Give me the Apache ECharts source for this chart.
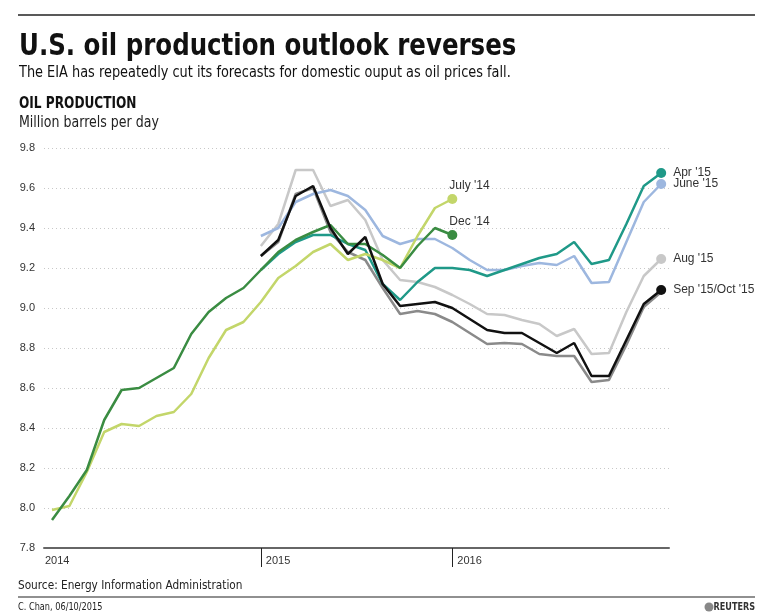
<!DOCTYPE html>
<html>
<head>
<meta charset="utf-8">
<script src="https://cdn.jsdelivr.net/npm/echarts@6/dist/echarts.min.js"></script>
<style>
html,body{margin:0;padding:0;background:#fff;}
#chart{width:773px;height:616px;}
</style>
</head>
<body>
<div id="chart"></div>
<script>
// Months Jan 2014 .. Dec 2016 (index 0..35)
var months = [];
['2014','2015','2016'].forEach(function(y){ for (var m=1;m<=12;m++) months.push(y+'-'+(m<10?'0'+m:m)); });

var yearTicks = [12, 23];
var yearLabels = ['2014', '2015', '2016'];
var yTicks = [7.8, 8.0, 8.2, 8.4, 8.6, 8.8, 9.0, 9.2, 9.4, 9.6, 9.8];

var N = null;
var july14 = [7.99, 8.01, 8.18, 8.38, 8.42, 8.41, 8.46, 8.48, 8.57, 8.75, 8.89, 8.93,
              9.03, 9.15, 9.21, 9.28, 9.32, 9.24, 9.27, 9.24, 9.20, 9.36, 9.50, 9.545];
var dec14  = [7.94, 8.06, 8.19, 8.44, 8.59, 8.60, 8.65, 8.70, 8.87, 8.98, 9.05, 9.10,
              9.19, 9.28, 9.34, 9.38, 9.415, 9.32, 9.32, 9.265, 9.20, 9.31, 9.40, 9.365];
var apr15  = [N,N,N,N,N,N,N,N,N,N,N,N,
              9.19, 9.27, 9.33, 9.365, 9.365, 9.32, 9.29, 9.12, 9.04, 9.13, 9.20, 9.20,
              9.19, 9.16, 9.19, 9.22, 9.25, 9.27, 9.33, 9.22, 9.24, 9.42, 9.61, 9.675];
var june15 = [N,N,N,N,N,N,N,N,N,N,N,N,
              9.36, 9.40, 9.53, 9.57, 9.59, 9.56, 9.49, 9.36, 9.32, 9.345, 9.345, 9.30,
              9.24, 9.19, 9.19, 9.21, 9.225, 9.215, 9.26, 9.125, 9.13, 9.33, 9.53, 9.62];
var aug15  = [N,N,N,N,N,N,N,N,N,N,N,N,
              9.31, 9.42, 9.69, 9.69, 9.51, 9.54, 9.44, 9.24, 9.14, 9.13, 9.105, 9.065,
              9.02, 8.97, 8.965, 8.94, 8.92, 8.86, 8.895, 8.77, 8.775, 8.98, 9.16, 9.245];
var sep15  = [N,N,N,N,N,N,N,N,N,N,N,N,
              9.26, 9.34, 9.56, 9.61, 9.40, 9.27, 9.355, 9.12, 9.01, 9.02, 9.03, 9.00,
              8.945, 8.89, 8.875, 8.875, 8.825, 8.775, 8.825, 8.66, 8.66, 8.84, 9.02, 9.09];
var oct15  = [N,N,N,N,N,N,N,N,N,N,N,N,
              9.26, 9.33, 9.57, 9.60, 9.38, 9.28, 9.24, 9.10, 8.97, 8.985, 8.97, 8.93,
              8.875, 8.82, 8.825, 8.82, 8.77, 8.76, 8.76, 8.63, 8.64, 8.815, 9.005, 9.08];

var vintages = [
  {name:"Oct '15", data:oct15, color:'#8a8a8a', label:null},
  {name:"Aug '15", data:aug15, color:'#c8c8c8', label:"Aug '15", pos:'right'},
  {name:"June '15", data:june15, color:'#9db7df', label:"June '15", pos:'right'},
  {name:"Apr '15", data:apr15, color:'#1f9988', label:"Apr '15", pos:'right'},
  {name:"July '14", data:july14, color:'#c3d66a', label:"July '14", pos:'top'},
  {name:"Dec '14", data:dec14, color:'#3a8c42', label:"Dec '14", pos:'top'},
  {name:"Sep '15", data:sep15, color:'#111111', label:"Sep '15/Oct '15", pos:'right'}
];

function pairs(arr){
  var out = [];
  arr.forEach(function(v,i){ if (v !== null) out.push([i, v]); });
  return out;
}

var XMIN = -0.46, XMAX = 35.45;
var FONT = "'Liberation Sans', Arial, sans-serif";
var NARROW = "'DejaVu Sans Condensed', 'DejaVu Sans', sans-serif";

var series = [];
vintages.forEach(function(v){
  var p = pairs(v.data);
  series.push({
    type:'line', name:v.name, data:p, showSymbol:false, symbol:'none',
    lineStyle:{color:v.color, width:2.5}, itemStyle:{color:v.color},
    silent:true, animation:false, z:2
  });
  if (v.label) {
    var last = p[p.length-1];
    var lab = v.pos === 'top'
      ? {show:true, position:'top', distance:2, align:'left', offset:[-3,0], formatter:v.label,
         fontFamily:FONT, fontSize:12, color:'#333'}
      : {show:true, position:'right', distance:7, formatter:v.label,
         fontFamily:FONT, fontSize:12, color:'#333'};
    series.push({
      type:'scatter', name:v.name+' end', data:[last], symbol:'circle', symbolSize:10,
      itemStyle:{color:v.color, opacity:1}, label:lab, silent:true, animation:false, z:5
    });
  }
});

function txt(x, y, s, font, sx, fill, align){
  return {type:'text', x:x, y:y, scaleX:sx, scaleY:1,
    style:{x:0, y:0, text:s, font:font, fill:fill||'#111', textAlign:align||'left', textVerticalAlign:'middle'}};
}

var chart = echarts.init(document.getElementById('chart'), null, {renderer:'canvas'});
chart.setOption({
  backgroundColor:'#fff',
  animation:false,
  grid:{left:44, right:104, top:148, bottom:68, containLabel:false},
  xAxis:{
    type:'value', min:XMIN, max:XMAX,
    splitLine:{show:false},
    axisLine:{show:true, lineStyle:{color:'#666', width:2}},
    axisTick:{show:true, customValues:yearTicks, length:19, lineStyle:{color:'#222', width:1}},
    axisLabel:{
      show:true, customValues:[XMIN].concat(yearTicks), margin:7, align:'left',
      fontFamily:FONT, fontSize:11, color:'#333',
      formatter:function(val){
        if (val < 0) return '{a|' + yearLabels[0] + '}';
        return '{b|' + (val < 20 ? yearLabels[1] : yearLabels[2]) + '}';
      },
      rich:{a:{fontFamily:FONT, fontSize:11, color:'#333', padding:[0,0,0,1]},
            b:{fontFamily:FONT, fontSize:11, color:'#333', padding:[0,0,0,5]}}
    }
  },
  yAxis:{
    type:'value', min:7.8, max:9.8, interval:0.2,
    axisLine:{show:false}, axisTick:{show:false},
    axisLabel:{margin:9, fontFamily:FONT, fontSize:11, color:'#333',
      formatter:function(v){ return v.toFixed(1); }},
    splitLine:{show:true, lineStyle:{color:'#c8c8c8', type:[1,3], width:1}}
  },
  series:series,
  graphic:[
    {type:'line', shape:{x1:18, y1:15, x2:755, y2:15}, style:{stroke:'#222', lineWidth:1.5}},
    txt(19, 47, 'U.S. oil production outlook reverses', "bold 30px " + NARROW, 0.907),
    txt(19, 73, 'The EIA has repeatedly cut its forecasts for domestic ouput as oil prices fall.', "15px " + NARROW, 0.957),
    txt(19, 104, 'OIL PRODUCTION', "bold 15px " + NARROW, 0.90),
    txt(19, 123, 'Million barrels per day', "15px " + NARROW, 0.933, '#222'),
    txt(18, 586, 'Source: Energy Information Administration', "13px " + NARROW, 0.90, '#222'),
    {type:'line', shape:{x1:18, y1:597, x2:755, y2:597}, style:{stroke:'#222', lineWidth:1.2}},
    txt(18, 607, 'C. Chan, 06/10/2015', "10px " + NARROW, 0.91, '#222'),
    {type:'circle', shape:{cx:709, cy:607, r:4.5}, style:{fill:'#888'}},
    txt(755, 607, 'REUTERS', "bold 10px " + NARROW, 0.9, '#333', 'right')
  ]
});
</script>
</body>
</html>
